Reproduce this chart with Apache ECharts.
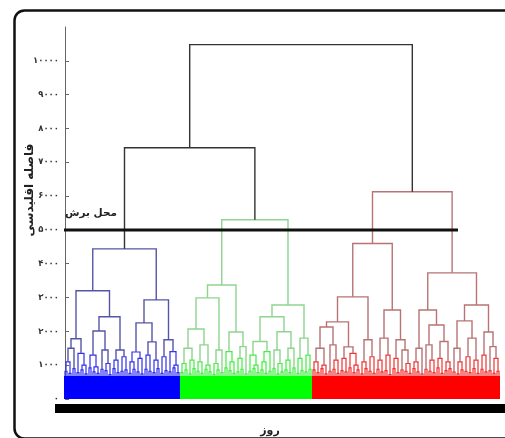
<!DOCTYPE html>
<html><head><meta charset="utf-8">
<script src="https://cdn.jsdelivr.net/npm/echarts@6/dist/echarts.min.js"></script>
<style>html,body{margin:0;padding:0;background:#fff}#c{width:505px;height:438px}</style>
</head><body><div id="c"></div>
<script>
// ---- data ----
const yTickValues = [0,1000,2000,3000,4000,5000,6000,7000,8000,9000,10000];
const yTickLabels = ['۰','۱۰۰۰','۲۰۰۰','۳۰۰۰','۴۰۰۰','۵۰۰۰','۶۰۰۰','۷۰۰۰','۸۰۰۰','۹۰۰۰','۱۰۰۰۰'];
const yAxisTitle = 'فاصله اقلیدسی';
const xAxisTitle = 'روز';
const cutLabel = 'محل برش';
const cutHeight = 5000;
const topHeights = [10480, 7430];          // root merge, blue+green merge
const bandHeight = 680;                    // dense low-level merges (solid band)
// tree nodes: [mergeHeight, left, right]; 0 = a pair of days
const blueTree = [4440,
  [3200,
    [1780, [1500,[1100,0,0],0], [1350,0,[1000,0,0]]],
    [2430, [2010,[1300,0,[950,0,0]],[1450,0,[1050,0,0]]], [1450,[1150,0,0],[1250,0,0]]]],
  [2930,
    [2250, [1390,[1100,0,0],[1200,0,0]], [1690,[1300,0,0],[1150,0,0]]],
    [1750, [1250,0,0], [1400,0,[1000,0,0]]]]];
const greenTree = [5300,
  [3370,
    [2990, [2070,[1500,[1050,0,0],[1150,0,0]],[1600,[1100,0,0],[1000,0,0]]], [1450,[1050,0,0],0]],
    [1980, [1400,0,[1100,0,0]], [1550,[1200,0,0],0]]],
  [2780,
    [2430, [1700,[1300,0,[1000,0,0]],[1400,[1100,0,0],0]], [1990,[1450,0,[1050,0,0]],[1500,[1150,0,0],0]]],
    [1800, [1200,0,0], [1300,0,0]]]];
const redTree = [6130,
  [4600,
    [3020,
      [2280, [2130,[1500,[1100,0,0],[1000,0,0]],[1600,0,[1150,0,0]]], [1540,[1200,0,0],[1350,0,[1000,0,0]]]],
      [1750, [1100,0,0], [1250,0,0]]],
    [2630, [1800,[1150,0,0],[1300,0,0]], [1750,[1200,0,0],[1450,0,[1050,0,0]]]]],
  [3730,
    [2630, [1500,[1100,0,0],0], [2190,[1600,0,[1150,0,0]],[1700,[1200,0,0],[1100,0,0]]]],
    [2780, [2310,[1500,0,[1100,0,0]],[1800,[1250,0,0],[1150,0,0]]], [1980,[1300,0,0],[1550,0,[1200,0,0]]]]]];
// merge heights of the day pairs (lowest visible merges), left to right
const blueLow  = [820,760,900,780,860,740,920,800,760,880,840,720,900,780,820,860,760,880,800,740,880,820,780,900,760,840,800,920,780];
const greenLow = [780,860,740,900,820,760,880,800,720,860,780,920,840,760,800,880,740,820,900,780,860,760,820,900,740,800,860,780,920,760,840,800,880];
const redLow   = [860,780,900,740,820,880,760,840,800,920,780,860,740,900,820,760,880,800,840,720,900,780,860,820,760,900,800,740,880,820,780,920,760,840,900,800,740,860,820,780,900,760,880,800,840,760,820];

// ---- dendrogram layout (leaf order -> x, merge height -> y) ----
let leafIdx = 0;
const links = [];
function lay(node, key, low){
  if (node === 0) {
    const a = leafIdx++, b = leafIdx++;
    const h = low.shift();
    links.push([a, 0, b, 0, h, key]);
    return {x:(a+b)/2, h:h, first:a, last:b};
  }
  const a = lay(node[1], key, low), b = lay(node[2], key, low);
  links.push([a.x, a.h, b.x, b.h, node[0], key]);
  return {x:(a.x+b.x)/2, h:node[0], first:a.first, last:b.last};
}
const bl = lay(blueTree, 1, blueLow.slice()), gr = lay(greenTree, 2, greenLow.slice());
links.push([bl.x, bl.h, gr.x, gr.h, topHeights[1], 0]);
const aX = (bl.x + gr.x)/2;
const rd = lay(redTree, 3, redLow.slice());
links.push([aX, topHeights[1], rd.x, rd.h, topHeights[0], 0]);
const bands = [bl, gr, rd].map((c,i)=>[c.first-0.5, c.last+0.5, bandHeight, i+1]);

const upperColors = ['#333333', '#5555a8', '#8fd48f', '#b87474'];
const lowerColors = ['#333333', '#3030f0', '#40ee40', '#f03030'];
const bandColors  = ['#000', '#0000ff', '#00ff00', '#ff0000'];
const FONT = 'DejaVu Sans';

const chart = echarts.init(document.getElementById('c'));
chart.setOption({
  animation: false,
  backgroundColor: '#fff',
  grid: {left: 64, right: 1, top: 27, bottom: 39},
  xAxis: {
    type: 'value', min: -0.5, max: leafIdx + 1.5,
    axisLine: {onZero: false, lineStyle: {color: '#000', width: 9}},
    offset: 9.5,
    axisTick: {show: false}, axisLabel: {show: false}, splitLine: {show: false}
  },
  yAxis: {
    type: 'value', min: 0, max: 11000, interval: 1000,
    axisLine: {show: true, lineStyle: {color: '#666', width: 1}},
    axisTick: {show: true, inside: true, length: 4, lineStyle: {color: '#666'}, customValues: yTickValues},
    axisLabel: {customValues: yTickValues, margin: 5, fontFamily: FONT, fontSize: 8.5, fontWeight: 'bold', color: '#333',
      formatter: v => yTickLabels[yTickValues.indexOf(v)] || ''},
    splitLine: {show: false}
  },
  graphic: [
    {type: 'rect', left: 12, top: 8, z: 100, silent: true,
     shape: {x: 0, y: 0, width: 520, height: 428, r: 10},
     style: {fill: 'none', stroke: '#111', lineWidth: 2.5}},
    {type: 'rect', left: 55, top: 404, z: 100, silent: true,
     shape: {x: 0, y: 0, width: 10, height: 9}, style: {fill: '#000'}},
    {type: 'text', x: 30, y: 190, rotation: Math.PI/2, z: 100,
     style: {text: yAxisTitle, fontFamily: FONT, fontSize: 12, fontWeight: 'bold', fill: '#222', align: 'center', verticalAlign: 'middle'}},
    {type: 'text', x: 270, y: 431, z: 100,
     style: {text: xAxisTitle, fontFamily: FONT, fontSize: 11, fontWeight: 'bold', fill: '#222', align: 'center', verticalAlign: 'middle'}},
    {type: 'text', x: 91, y: 213, z: 100,
     style: {text: cutLabel, fontFamily: FONT, fontSize: 10.5, fontWeight: 'bold', fill: '#222', align: 'center', verticalAlign: 'middle'}}
  ],
  series: [
    {type: 'custom', data: links, z: 2, clip: false,
     renderItem: function(params, api){
       const x1 = api.value(0), h1 = api.value(1), x2 = api.value(2), h2 = api.value(3), H = api.value(4), k = api.value(5);
       const pts = [api.coord([x1,h1]), api.coord([x1,H]), api.coord([x2,H]), api.coord([x2,h2])];
       const low = H <= 1400;
       return {type: 'polyline', shape: {points: pts},
               style: {stroke: low ? lowerColors[k] : upperColors[k], fill: null, lineWidth: low ? 1.2 : 1.4}};
     }},
    {type: 'custom', data: bands, z: 3,
     renderItem: function(params, api){
       const p0 = api.coord([api.value(0), api.value(2)]);
       const p1 = api.coord([api.value(1), 0]);
       return {type: 'rect', shape: {x: p0[0], y: p0[1], width: p1[0]-p0[0], height: p1[1]-p0[1]},
               style: {fill: bandColors[api.value(3)]}};
     }},
    {type: 'line', data: [[-0.5, cutHeight], [196.5, cutHeight]], z: 4, symbol: 'none',
     lineStyle: {color: '#111', width: 3}}
  ]
});
</script>
</body></html>
